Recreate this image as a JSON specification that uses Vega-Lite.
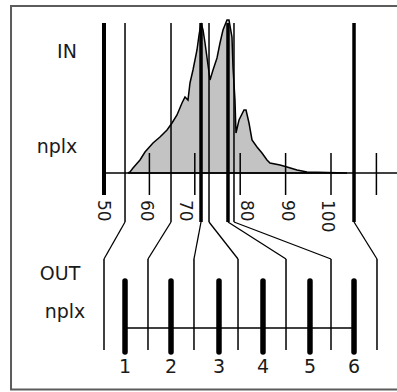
{
  "$schema": "https://vega.github.io/schema/vega-lite/v6.json",
  "width": 397,
  "height": 392,
  "autosize": {"type": "fit", "contains": "padding"},
  "padding": 0,
  "background": "white",
  "config": {"view": {"stroke": null}, "text": {"font": "DejaVu Sans", "color": "#1a1a1a"}},
  "datasets": {
    "hist": [
      {"nplx": 55.29, "count": 0}, {"nplx": 55.73, "count": 1}, {"nplx": 56.39, "count": 5},
      {"nplx": 57.93, "count": 13}, {"nplx": 59.03, "count": 21}, {"nplx": 60.79, "count": 30},
      {"nplx": 62.33, "count": 36}, {"nplx": 63.88, "count": 43}, {"nplx": 64.98, "count": 50},
      {"nplx": 66.08, "count": 58}, {"nplx": 67.18, "count": 70}, {"nplx": 67.84, "count": 76},
      {"nplx": 68.5, "count": 73}, {"nplx": 68.94, "count": 90}, {"nplx": 69.6, "count": 103},
      {"nplx": 70.48, "count": 123}, {"nplx": 70.93, "count": 138}, {"nplx": 71.37, "count": 150},
      {"nplx": 71.81, "count": 143}, {"nplx": 72.25, "count": 130}, {"nplx": 72.91, "count": 108},
      {"nplx": 73.35, "count": 93}, {"nplx": 74.01, "count": 103}, {"nplx": 74.89, "count": 115},
      {"nplx": 75.55, "count": 130}, {"nplx": 76.21, "count": 143}, {"nplx": 77.09, "count": 153},
      {"nplx": 77.53, "count": 153}, {"nplx": 78.19, "count": 136}, {"nplx": 78.41, "count": 106},
      {"nplx": 78.85, "count": 73}, {"nplx": 79.07, "count": 40}, {"nplx": 79.74, "count": 53},
      {"nplx": 80.84, "count": 63}, {"nplx": 81.28, "count": 63}, {"nplx": 81.94, "count": 50},
      {"nplx": 82.6, "count": 33}, {"nplx": 83.7, "count": 26}, {"nplx": 84.8, "count": 20},
      {"nplx": 85.9, "count": 13}, {"nplx": 86.56, "count": 10}, {"nplx": 88.77, "count": 8},
      {"nplx": 90.31, "count": 6}, {"nplx": 92.51, "count": 3}, {"nplx": 94.71, "count": 1},
      {"nplx": 103.52, "count": 0}
    ],
    "ticks": [{"tick": 60}, {"tick": 70}, {"tick": 80}, {"tick": 90}, {"tick": 100}, {"tick": 110}],
    "ticklabels": [
      {"label": "50", "at": 49.67}, {"label": "60", "at": 59.36}, {"label": "70", "at": 67.95},
      {"label": "80", "at": 81.28}, {"label": "90", "at": 90.2}, {"label": "100", "at": 99.12}
    ],
    "bounds": [
      {"in": 54.63, "out": 50, "kind": "thin"},
      {"in": 64.76, "out": 59.69, "kind": "thin"},
      {"in": 71.37, "out": 69.82, "kind": "thick"},
      {"in": 73.13, "out": 79.52, "kind": "thin"},
      {"in": 77.31, "out": 90.09, "kind": "thick"},
      {"in": 78.63, "out": 100, "kind": "thin"},
      {"in": 105.07, "out": 110.13, "kind": "thick"}
    ],
    "slots": [
      {"slot": "1", "nplx": 54.63}, {"slot": "2", "nplx": 64.76}, {"slot": "3", "nplx": 75.33},
      {"slot": "4", "nplx": 85.02}, {"slot": "5", "nplx": 95.37}, {"slot": "6", "nplx": 105.07}
    ],
    "sidelabels": [
      {"text": "IN", "x": 41.85, "y": 115},
      {"text": "nplx", "x": 39.65, "y": 20},
      {"text": "OUT", "x": 40.31, "y": -107},
      {"text": "nplx", "x": 41.41, "y": -145}
    ]
  },
  "layer": [
    {
      "data": {"values": [{}]},
      "mark": {"type": "rect", "fillOpacity": 0, "stroke": "#5c5c5c", "strokeWidth": 2, "clip": true},
      "encoding": {
        "x": {"datum": 29.52, "type": "quantitative", "scale": {"domain": [27.093, 114.537], "nice": false, "zero": false}, "axis": null},
        "x2": {"datum": 116},
        "y": {"datum": -216.5, "type": "quantitative", "scale": {"domain": [-219, 173], "nice": false, "zero": false}, "axis": null},
        "y2": {"datum": 167}
      }
    },
    {
      "data": {"name": "hist"},
      "mark": {"type": "area", "fill": "#c3c3c3", "stroke": "black", "strokeWidth": 1.5},
      "encoding": {
        "x": {"field": "nplx", "type": "quantitative", "scale": {"domain": [27.093, 114.537], "nice": false, "zero": false}, "axis": null},
        "y": {"field": "count", "type": "quantitative", "scale": {"domain": [-219, 173], "nice": false, "zero": false}, "axis": null}
      }
    },
    {
      "data": {"values": [{}]},
      "mark": {"type": "rule", "color": "black", "strokeWidth": 1.5, "clip": true},
      "encoding": {
        "x": {"datum": 50, "type": "quantitative", "scale": {"domain": [27.093, 114.537], "nice": false, "zero": false}, "axis": null},
        "x2": {"datum": 116},
        "y": {"datum": 0, "type": "quantitative", "scale": {"domain": [-219, 173], "nice": false, "zero": false}, "axis": null}
      }
    },
    {
      "data": {"values": [{}]},
      "mark": {"type": "rule", "color": "black", "strokeWidth": 4},
      "encoding": {
        "x": {"datum": 50, "type": "quantitative", "scale": {"domain": [27.093, 114.537], "nice": false, "zero": false}, "axis": null},
        "y": {"datum": 150, "type": "quantitative", "scale": {"domain": [-219, 173], "nice": false, "zero": false}, "axis": null},
        "y2": {"datum": -22}
      }
    },
    {
      "data": {"name": "ticks"},
      "mark": {"type": "rule", "color": "black", "strokeWidth": 1.5},
      "encoding": {
        "x": {"field": "tick", "type": "quantitative", "scale": {"domain": [27.093, 114.537], "nice": false, "zero": false}, "axis": null},
        "y": {"datum": 20, "type": "quantitative", "scale": {"domain": [-219, 173], "nice": false, "zero": false}, "axis": null},
        "y2": {"datum": -22}
      }
    },
    {
      "data": {"name": "ticklabels"},
      "mark": {"type": "text", "angle": 90, "align": "left", "baseline": "middle", "fontSize": 17},
      "encoding": {
        "x": {"field": "at", "type": "quantitative", "scale": {"domain": [27.093, 114.537], "nice": false, "zero": false}, "axis": null},
        "y": {"datum": -27, "type": "quantitative", "scale": {"domain": [-219, 173], "nice": false, "zero": false}, "axis": null},
        "text": {"field": "label"}
      }
    },
    {
      "data": {"name": "bounds"},
      "transform": [{"filter": "datum.kind === 'thin'"}],
      "mark": {"type": "rule", "color": "black", "strokeWidth": 1.5},
      "encoding": {
        "x": {"field": "in", "type": "quantitative", "scale": {"domain": [27.093, 114.537], "nice": false, "zero": false}, "axis": null},
        "y": {"datum": 150, "type": "quantitative", "scale": {"domain": [-219, 173], "nice": false, "zero": false}, "axis": null},
        "y2": {"datum": -49}
      }
    },
    {
      "data": {"name": "bounds"},
      "transform": [{"filter": "datum.kind === 'thick'"}],
      "mark": {"type": "rule", "color": "black", "strokeWidth": 3.5},
      "encoding": {
        "x": {"field": "in", "type": "quantitative", "scale": {"domain": [27.093, 114.537], "nice": false, "zero": false}, "axis": null},
        "y": {"datum": 150, "type": "quantitative", "scale": {"domain": [-219, 173], "nice": false, "zero": false}, "axis": null},
        "y2": {"datum": -49}
      }
    },
    {
      "data": {"name": "bounds"},
      "mark": {"type": "rule", "color": "black", "strokeWidth": 1.3},
      "encoding": {
        "x": {"field": "in", "type": "quantitative", "scale": {"domain": [27.093, 114.537], "nice": false, "zero": false}, "axis": null},
        "x2": {"field": "out"},
        "y": {"datum": -49, "type": "quantitative", "scale": {"domain": [-219, 173], "nice": false, "zero": false}, "axis": null},
        "y2": {"datum": -86}
      }
    },
    {
      "data": {"name": "bounds"},
      "mark": {"type": "rule", "color": "black", "strokeWidth": 1.5},
      "encoding": {
        "x": {"field": "out", "type": "quantitative", "scale": {"domain": [27.093, 114.537], "nice": false, "zero": false}, "axis": null},
        "y": {"datum": -86, "type": "quantitative", "scale": {"domain": [-219, 173], "nice": false, "zero": false}, "axis": null},
        "y2": {"datum": -177}
      }
    },
    {
      "data": {"values": [{}]},
      "mark": {"type": "rule", "color": "black", "strokeWidth": 1.5},
      "encoding": {
        "x": {"datum": 54.63, "type": "quantitative", "scale": {"domain": [27.093, 114.537], "nice": false, "zero": false}, "axis": null},
        "x2": {"datum": 105.07},
        "y": {"datum": -155, "type": "quantitative", "scale": {"domain": [-219, 173], "nice": false, "zero": false}, "axis": null}
      }
    },
    {
      "data": {"name": "slots"},
      "mark": {"type": "rule", "color": "black", "strokeWidth": 5.5, "strokeCap": "round"},
      "encoding": {
        "x": {"field": "nplx", "type": "quantitative", "scale": {"domain": [27.093, 114.537], "nice": false, "zero": false}, "axis": null},
        "y": {"datum": -108, "type": "quantitative", "scale": {"domain": [-219, 173], "nice": false, "zero": false}, "axis": null},
        "y2": {"datum": -179}
      }
    },
    {
      "data": {"name": "slots"},
      "mark": {"type": "text", "align": "center", "baseline": "middle", "fontSize": 19},
      "encoding": {
        "x": {"field": "nplx", "type": "quantitative", "scale": {"domain": [27.093, 114.537], "nice": false, "zero": false}, "axis": null},
        "y": {"datum": -194, "type": "quantitative", "scale": {"domain": [-219, 173], "nice": false, "zero": false}, "axis": null},
        "text": {"field": "slot"}
      }
    },
    {
      "data": {"name": "sidelabels"},
      "mark": {"type": "text", "align": "center", "baseline": "alphabetic", "fontSize": 19},
      "encoding": {
        "x": {"field": "x", "type": "quantitative", "scale": {"domain": [27.093, 114.537], "nice": false, "zero": false}, "axis": null},
        "y": {"field": "y", "type": "quantitative", "scale": {"domain": [-219, 173], "nice": false, "zero": false}, "axis": null},
        "text": {"field": "text"}
      }
    }
  ]
}
